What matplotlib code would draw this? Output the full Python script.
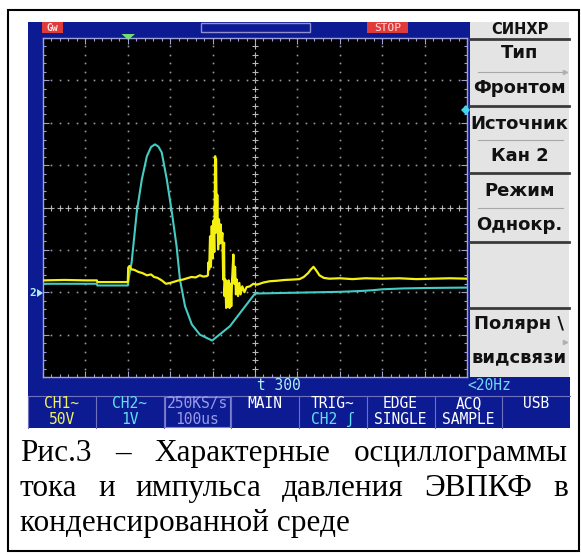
import matplotlib
matplotlib.use('Agg')
import matplotlib.pyplot as plt
import numpy as np
from matplotlib.patches import Rectangle, Polygon

# --- данные осциллограммы (деления экрана: x 0..10, y -4..4) ---
cyan_t = [0.00, 1.27, 1.28, 2.00, 2.03, 2.09, 2.21, 2.33, 2.45, 2.55,
          2.64, 2.72, 2.80, 2.92, 3.04, 3.15, 3.23, 3.35, 3.51, 3.70,
          3.99, 4.20, 4.41, 4.70, 5.00, 5.50, 6.00, 6.50, 7.00, 7.50,
          7.80, 8.00, 8.50, 9.00, 10.00]
cyan_v = [-1.80, -1.80, -1.84, -1.84, -1.62, -1.30, -0.12, 0.66, 1.21, 1.43,
          1.49, 1.44, 1.30, 0.66, -0.12, -0.91, -1.70, -2.33, -2.76, -3.00,
          -3.14, -2.97, -2.80, -2.42, -2.03, -2.02, -2.01, -2.00, -1.99, -1.97,
          -1.95, -1.93, -1.91, -1.90, -1.89]

yel_t = [0.00, 0.50, 1.00, 1.27, 1.28, 1.60, 2.00, 2.01, 2.04, 2.08,
         2.15, 2.25, 2.35, 2.45, 2.55, 2.62, 2.70, 2.80, 2.90, 3.00,
         3.10, 3.20, 3.30, 3.40, 3.50, 3.60, 3.70, 3.78, 3.86, 3.89,
         3.90, 3.92, 3.94, 3.96, 3.98, 4.00, 4.02, 4.04, 4.06, 4.07,
         4.08, 4.10, 4.11, 4.13, 4.15, 4.17, 4.19, 4.21, 4.23, 4.25,
         4.27, 4.28, 4.30, 4.32, 4.34, 4.36, 4.38, 4.40, 4.42, 4.44,
         4.46, 4.49, 4.51, 4.53, 4.55, 4.57, 4.60, 4.63, 4.66, 4.70,
         4.75, 4.80, 4.88, 4.96, 5.05, 5.20, 5.35, 5.50, 5.70, 5.90,
         6.05, 6.15, 6.25, 6.32, 6.38, 6.44, 6.52, 6.62, 6.75, 7.00,
         7.30, 7.60, 8.00, 8.40, 8.80, 9.20, 9.60, 10.00]
yel_v = [-1.72, -1.71, -1.72, -1.72, -1.76, -1.76, -1.76, -1.42, -1.38, -1.46,
         -1.47, -1.52, -1.55, -1.60, -1.58, -1.64, -1.66, -1.72, -1.80, -1.78,
         -1.75, -1.72, -1.70, -1.67, -1.64, -1.65, -1.60, -1.63, -1.62, -1.60,
         -1.30, -1.46, -0.68, -1.40, -0.44, -1.20, -0.31, -1.05, 1.21, -0.60,
         1.15, -0.36, 0.30, -0.99, -0.28, -0.85, -0.40, -0.83, -0.60, -1.70,
         -0.83, -2.09, -1.70, -2.37, -1.75, -2.35, -1.72, -2.37, -1.80, -2.33,
         -1.70, -1.11, -1.80, -1.40, -2.05, -1.70, -2.09, -1.78, -2.05, -1.86,
         -2.00, -1.88, -1.86, -1.80, -1.82, -1.77, -1.74, -1.73, -1.71, -1.70,
         -1.69, -1.64, -1.55, -1.46, -1.40, -1.48, -1.60, -1.66, -1.68, -1.67,
         -1.69, -1.67, -1.68, -1.67, -1.69, -1.68, -1.67, -1.68]

menu_items = ['СИНХР', 'Тип', 'Фронтом', 'Источник', 'Кан 2', 'Режим', 'Однокр.',
              'Полярн \\', 'видсвязи']
status_top = ['CH1~', 'CH2~', '250KS/s', 'MAIN', 'TRIG~', 'EDGE', 'ACQ', 'USB']
status_bot = ['50V', '1V', '100us', '', 'CH2 ʃ', 'SINGLE', 'SAMPLE', '']
status_col = ['#f0f060', '#60e0f0', '#9a9ae8', 'white', 'white', 'white', 'white', 'white']
status_col2 = ['#f0f060', '#60e0f0', '#9a9ae8', 'white', '#60e0f0', 'white', 'white', 'white']

caption = [['Рис.3', '–', 'Характерные', 'осциллограммы'],
           ['тока', 'и', 'импульса', 'давления', 'ЭВПКФ', 'в'],
           ['конденсированной среде']]

W, H = 581, 556
BLUE = '#0d1b93'
LAV = '#a0a0dc'
MONO = 'DejaVu Sans Mono'

fig = plt.figure(figsize=(W / 100, H / 100), dpi=100)
fig.patch.set_facecolor('white')

bg = fig.add_axes([0, 0, 1, 1])
bg.set_xlim(0, W)
bg.set_ylim(H, 0)
bg.axis('off')

# синий экран и серое меню
bg.add_patch(Rectangle((28, 22), 442, 356, color=BLUE, lw=0))
bg.add_patch(Rectangle((28, 377), 542, 51, color=BLUE, lw=0))
bg.add_patch(Rectangle((470, 22), 99, 355, color='#e4e4e4', lw=0))

# экран осциллографа
x0, x1, y0, y1 = 43, 467, 38, 377
ax = fig.add_axes([x0 / W, 1 - y1 / H, (x1 - x0) / W, (y1 - y0) / H])
ax.set_facecolor('black')
ax.set_xlim(0, 10)
ax.set_ylim(-4, 4)
ax.set_xticks(np.arange(0, 11, 1))
ax.set_yticks(np.arange(-4, 5, 1))
ax.set_xticks(np.arange(0, 10.01, 0.2), minor=True)
ax.set_yticks(np.arange(-4, 4.01, 0.2), minor=True)
ax.tick_params(which='both', direction='in', top=True, right=True,
               labelbottom=False, labelleft=False, color=LAV, width=0.8)
ax.tick_params(which='major', length=4)
ax.tick_params(which='minor', length=2)
for s in ax.spines.values():
    s.set_color(LAV)
    s.set_linewidth(1)

dotc = '#9a9a9a'
xs = np.arange(0, 10.01, 0.2)
ys = np.arange(-4, 4.01, 0.2)
for gx in range(1, 10):
    if gx == 5:
        ax.plot(np.full_like(ys, 5), ys, ls='none', marker='+', ms=4, mew=0.8, color='#b8b8b8')
    else:
        ax.plot(np.full_like(ys, gx), ys, ls='none', marker='s', ms=1.2, mew=0, color=dotc)
for gy in range(-3, 4):
    if gy == 0:
        ax.plot(xs, np.zeros_like(xs), ls='none', marker='+', ms=4, mew=0.8, color='#b8b8b8')
    else:
        ax.plot(xs, np.full_like(xs, gy), ls='none', marker='s', ms=1.2, mew=0, color=dotc)

ax.plot(cyan_t, cyan_v, color='#44ccc4', lw=1.5, zorder=3)
ax.plot(yel_t, yel_v, color='#f4f010', lw=1.6, zorder=4)

# верхний слой с надписями
ov = fig.add_axes([0, 0, 1, 1], zorder=5)
ov.set_xlim(0, W)
ov.set_ylim(H, 0)
ov.axis('off')
ov.patch.set_alpha(0)

ov.add_patch(Rectangle((8, 10), 571, 541, fill=False, ec='black', lw=1.5))

# верхняя строка
ov.add_patch(Rectangle((42, 22), 21, 11, color='#e03a3a', lw=0))
ov.text(52.5, 28, 'Gw', color='#ffe0e0', fontsize=7, fontweight='bold',
        ha='center', va='center', family=MONO)
ov.add_patch(Rectangle((201, 23), 109, 9, fill=False, ec='#9090d0', lw=1))
ov.add_patch(Rectangle((367, 22), 41, 11, color='#e03a3a', lw=0))
ov.text(387.5, 28, 'STOP', color='#ffe0e0', fontsize=8, ha='center', va='center', family=MONO)
ov.add_patch(Polygon([(121.5, 34), (135, 34), (128.3, 40)], color='#70e070', lw=0))
ov.add_patch(Polygon([(461, 110), (466, 105), (470, 110), (466, 115)], color='#40d8ec', lw=0))
ov.text(33, 293, '2', color='#b0f0f0', fontsize=8, fontweight='bold',
        ha='center', va='center', family=MONO)
ov.add_patch(Polygon([(37, 289), (43, 293), (37, 297)], color='#b0e8f0', lw=0))

# меню справа
menu_y = [30, 53, 88, 124, 156, 191, 225, 324, 357]
for txt, yy in zip(menu_items, menu_y):
    ov.text(519.5, yy, txt, color='#111111', fontsize=10.5 if txt == 'СИНХР' else 13,
            fontweight='bold', ha='center', va='center', family='DejaVu Sans')
for yy in [39, 106, 173, 242, 308]:
    ov.plot([470, 569], [yy, yy], color='#3a3a3a', lw=2)
for yy in [72, 140, 208]:
    ov.plot([478, 563], [yy, yy], color='#a8a8a8', lw=0.8)
ov.plot(565, 72, marker='>', ms=3, color='#b0b0b0')
ov.plot(565, 342, marker='>', ms=3, color='#b0b0b0')

# строка состояния
ov.text(257, 386, 't 300', color='#b0f0f0', fontsize=10.5, ha='left', va='center', family=MONO)
ov.text(467, 386, '<20Hz', color='#70d8f0', fontsize=10.5, ha='left', va='center', family=MONO)

bx = np.linspace(28, 570, 9)
ov.plot([28, 570], [396, 396], color='#7070c0', lw=0.8)
for i in range(8):
    ov.plot([bx[i], bx[i]], [396, 428], color='#7070c0', lw=0.8)
    cx = (bx[i] + bx[i + 1]) / 2
    ov.text(cx, 403.5, status_top[i], color=status_col[i], fontsize=10.5,
            ha='center', va='center', family=MONO)
    if status_bot[i]:
        ov.text(cx, 419.5, status_bot[i], color=status_col2[i], fontsize=10.5,
                ha='center', va='center', family=MONO)
ov.add_patch(Rectangle((bx[2] + 1, 397), bx[3] - bx[2] - 2, 30, fill=False, ec='#8080d0', lw=0.8))

# подпись, выровненная по ширине
base_y = [461, 496, 531]
fig.canvas.draw()
r = fig.canvas.get_renderer()
for li, words in enumerate(caption):
    ts = [ov.text(0, base_y[li], w, fontsize=22.5, family='Liberation Serif',
                  ha='left', va='baseline', color='black') for w in words]
    widths = [t.get_window_extent(r).width for t in ts]
    if len(words) > 1:
        gap = (568 - 20 - sum(widths)) / (len(words) - 1)
    else:
        gap = 0
    x = 20
    for t, w in zip(ts, widths):
        t.set_x(x)
        x += w + gap

fig.savefig('out.png', dpi=100, facecolor='white')
